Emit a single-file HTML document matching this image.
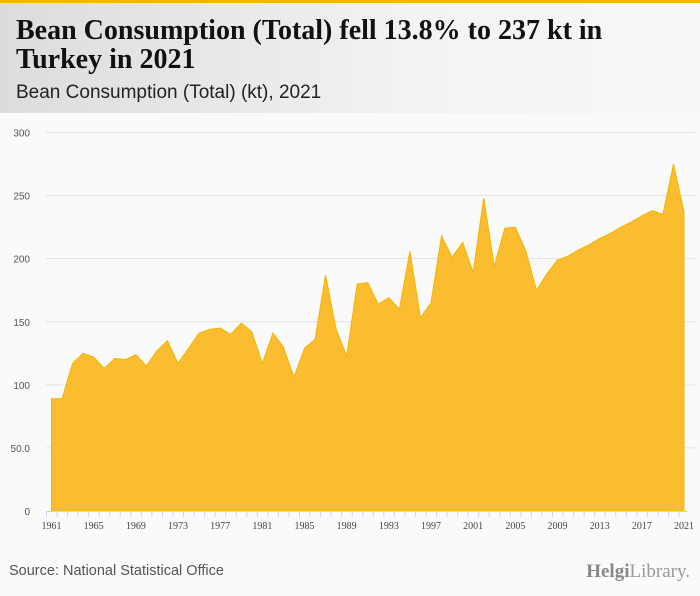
<!DOCTYPE html>
<html><head><meta charset="utf-8"><style>
body{margin:0;width:700px;height:596px;background:#fafafa;font-family:"Liberation Sans",sans-serif;overflow:hidden;position:relative}
#hdr{position:absolute;left:0;top:0;width:700px;height:113px;background:linear-gradient(90deg,#dcdcdc,#f3f3f3 60%,#f7f7f7);border-top:3px solid #f5b400;box-sizing:border-box}
#title{position:absolute;left:16px;top:13px;font-family:"Liberation Serif",serif;font-weight:bold;font-size:28px;line-height:29px;color:#111;margin:0;white-space:nowrap}
#sub{position:absolute;left:16px;top:79px;font-size:19px;color:#222}
#src{position:absolute;left:9px;top:563px;font-size:14.5px;color:#555}
#logo{position:absolute;right:10px;top:561px;font-family:"Liberation Serif",serif;font-size:19px;color:#999}
svg{position:absolute;left:0;top:0}
</style></head><body>
<div id="hdr">
<h1 id="title">Bean Consumption (Total) fell 13.8% to 237 kt in<br>Turkey in 2021</h1>
<div id="sub">Bean Consumption (Total) (kt), 2021</div>
</div>
<svg id="chart" width="700" height="596"></svg>
<div id="src">Source: National Statistical Office</div>
<div id="logo"><b style="color:#888">Helgi</b>Library.</div>
<script>
const years=[];for(let y=1961;y<=2021;y++)years.push(y);
const values=[89,89,117,125,122,113,121,120,124,115,127,135,117,129,141,144,145,140,149,142,117,141,130,106,129,136,187,144,123,180,181,164,169,160,206,153,165,218,201,213,189,248,194,224,225,206,175,188,199,202,207,211,216,220,225,229,234,238,235,275,237];
const yTicks=[0,50,100,150,200,250,300];
const yTickLabels=["0","50.0","100","150","200","250","300"];
const xLabelYears=[1961,1965,1969,1973,1977,1981,1985,1989,1993,1997,2001,2005,2009,2013,2017,2021];
const NS="http://www.w3.org/2000/svg",svg=document.getElementById('chart');
const x0=51.5,x1=684,yb=511,yt=132.5;
const X=y=>x0+(y-1961)*(x1-x0)/60;
const Y=v=>yb-v*(yb-yt)/300;
function mk(t,a){const e=document.createElementNS(NS,t);for(const k in a)e.setAttribute(k,a[k]);svg.appendChild(e);return e;}
yTicks.forEach((v,i)=>{
 if(v>0){const l=mk('line',{x1:46,x2:695,y1:Y(v),y2:Y(v),stroke:'#e2e2e2','stroke-width':1});
 
 }
 const t=mk('text',{x:30,y:Y(v)+4,'text-anchor':'end','font-size':10,fill:'#555','font-family':'Liberation Sans, sans-serif'});
 t.textContent=yTickLabels[i];
 
 
});
let d='M'+X(years[0])+','+Y(0);
years.forEach((y,i)=>{d+='L'+X(y).toFixed(2)+','+Y(values[i]).toFixed(2);});
d+='L'+X(years[years.length-1])+','+Y(0)+'Z';
const a=mk('path',{d:d,fill:'#f9bd2f',stroke:'#f5b400','stroke-width':1});


const ax=mk('line',{x1:46,x2:687,y1:yb+0.5,y2:yb+0.5,stroke:'#ccd6eb'});


years.forEach(y=>{const t=mk('line',{x1:X(y)-5,x2:X(y)-5,y1:yb,y2:yb+6,stroke:'#ccd6eb'});
 
 });
xLabelYears.forEach(y=>{const t=mk('text',{x:X(y),y:529,'text-anchor':'middle','font-size':10,fill:'#444','font-family':'Liberation Serif, serif'});
 t.textContent=y;
 
 });
</script>
</body></html>
